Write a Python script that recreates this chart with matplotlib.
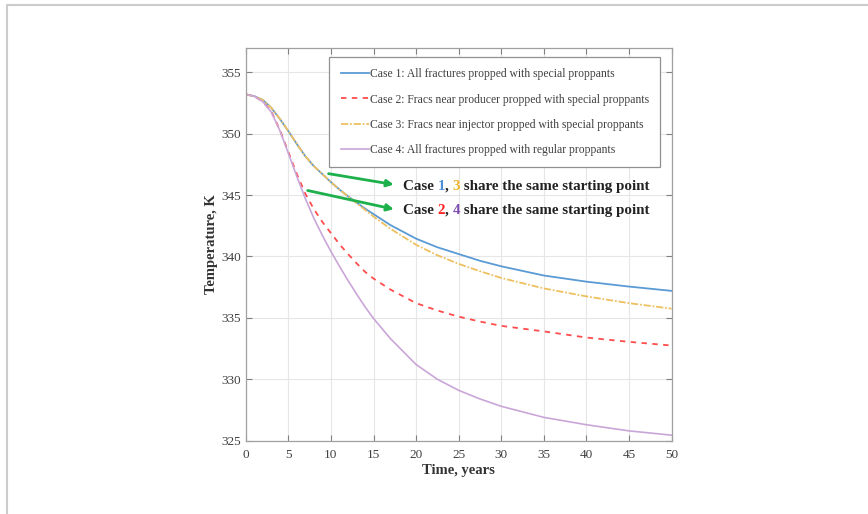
import matplotlib
matplotlib.use("Agg")
import matplotlib.pyplot as plt
from matplotlib.patches import Rectangle

# values
years = [0, 1, 2, 3, 4, 5, 6, 7, 8, 9, 10, 11, 12, 13, 14, 15, 17, 20, 22.5, 25, 27.5, 30, 35, 40, 45, 50]
case1 = [353.2, 353.05, 352.75, 352.1, 351.2, 350.2, 349.15, 348.15, 347.35, 346.7, 346.05, 345.45, 344.9,
         344.4, 343.9, 343.45, 342.55, 341.45, 340.75, 340.2, 339.65, 339.2, 338.45, 337.95, 337.55, 337.2]
case2 = [353.2, 353.05, 352.6, 351.8, 350.3, 348.5, 346.7, 345.1, 343.85, 342.8, 341.9, 341.0, 340.2,
         339.45, 338.75, 338.2, 337.3, 336.2, 335.6, 335.1, 334.7, 334.35, 333.9, 333.4, 333.05, 332.75]
case3 = [353.2, 353.05, 352.75, 352.1, 351.2, 350.2, 349.15, 348.15, 347.35, 346.7, 346.05, 345.45, 344.9,
         344.35, 343.8, 343.25, 342.25, 340.95, 340.1, 339.4, 338.8, 338.25, 337.4, 336.75, 336.2, 335.75]
case4 = [353.2, 353.05, 352.6, 351.75, 350.25, 348.4, 346.5, 344.7, 343.1, 341.7, 340.4, 339.2, 338.05,
         336.95, 335.9, 334.95, 333.3, 331.2, 330.0, 329.1, 328.4, 327.8, 326.9, 326.3, 325.8, 325.45]

labels = [
    "Case 1: All fractures propped with special proppants",
    "Case 2: Fracs near producer propped with special proppants",
    "Case 3: Fracs near injector propped with special proppants",
    "Case 4: All fractures propped with regular proppants",
]
x_ticks = [0, 5, 10, 15, 20, 25, 30, 35, 40, 45, 50]
y_ticks = [325, 330, 335, 340, 345, 350, 355]

plt.rcParams['font.family'] = ['Liberation Serif', 'DejaVu Serif']

fig = plt.figure(figsize=(8.68, 5.14), dpi=100)
ax = fig.add_axes([0.2832, 0.1426, 0.4905, 0.7646])

ax.plot(years, case1, color='#5b9bd5', lw=1.3, label=labels[0])
ax.plot(years, case2, color='#ff4d4d', lw=1.3, ls=(0, (3, 3)), label=labels[1])
ax.plot(years, case3, color='#eec060', lw=1.3, ls=(0, (4, 1, 1, 1)), label=labels[2])
ax.plot(years, case4, color='#caa6d8', lw=1.2, label=labels[3])

ax.set_xlim(0, 50)
ax.set_ylim(325, 357)
ax.set_xticks(x_ticks)
ax.set_yticks(y_ticks)
ax.tick_params(direction='in', top=True, right=True, length=4, width=0.8,
               color='#808080', labelcolor='#404040', labelsize=9.5)
ax.tick_params(axis='x', pad=6)
ax.grid(True, color='#e6e6e6', lw=0.8)
ax.set_axisbelow(True)
for sp in ax.spines.values():
    sp.set_color('#a0a0a0')
    sp.set_linewidth(0.9)

ax.set_xlabel('Time, years', fontsize=10.5, fontweight='bold', color='#333333', labelpad=2)
ax.set_ylabel('Temperature, K', fontsize=10.5, fontweight='bold', color='#333333', labelpad=2)

leg = ax.legend(loc='upper right', bbox_to_anchor=(0.9727, 0.9756), borderaxespad=0,
                fontsize=8.4, labelspacing=1.13, handlelength=2.4, handletextpad=0.1,
                borderpad=0.95, fancybox=False, framealpha=1)
leg.get_frame().set_edgecolor('#909090')
leg.get_frame().set_linewidth(0.9)
for t in leg.get_texts():
    t.set_color('#404040')

# green arrows pointing to the notes
arrow = dict(arrowstyle='-|>', color='#1db04b', lw=2.0, mutation_scale=10)
ax.annotate('', xy=(17.7, 345.82), xytext=(9.4, 346.78), arrowprops=arrow)
ax.annotate('', xy=(17.7, 343.8), xytext=(6.95, 345.42), arrowprops=arrow)


def colored_text(x, y, parts):
    txt = ax.text(x, y, parts[0][0], color=parts[0][1], fontsize=10.8,
                  fontweight='bold', va='center')
    for s, c in parts[1:]:
        txt = ax.annotate(s, xycoords=txt, xy=(1, 0), va='bottom', color=c,
                          fontsize=10.8, fontweight='bold')


colored_text(18.45, 345.7, [("Case ", '#222222'), ("1", '#4a90d9'), (", ", '#222222'),
                            ("3", '#f0b429'), (" share the same starting point", '#222222')])
colored_text(18.45, 343.75, [("Case ", '#222222'), ("2", '#ff2020'), (", ", '#222222'),
                             ("4", '#7b4bb0'), (" share the same starting point", '#222222')])

# light frame around the picture
fig.add_artist(Rectangle((0.0075, -0.5), 2, 1.4897, transform=fig.transFigure,
                         fill=False, edgecolor='#cccccc', lw=1.5))

fig.savefig('out.png', dpi=100)
